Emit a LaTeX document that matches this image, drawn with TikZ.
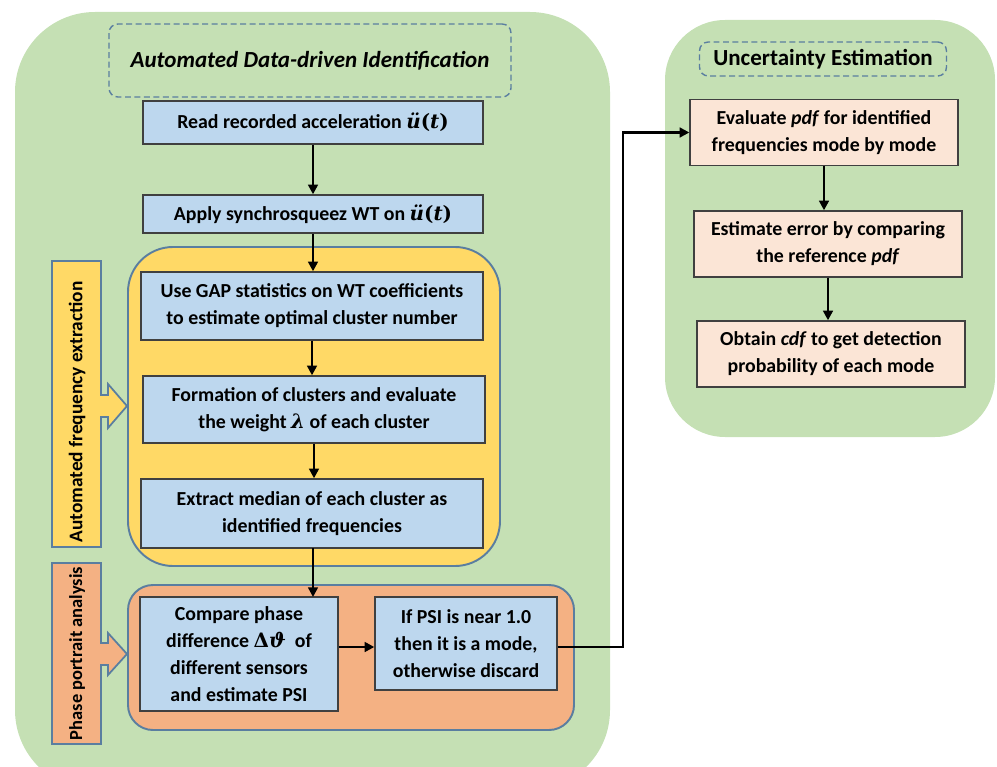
\documentclass[tikz,border=0pt]{standalone}
\usepackage{fontspec}
\setmainfont{Carlito}
\newfontfamily\mserif{DejaVu Serif}
\newcommand{\mbi}[1]{{\mserif\bfseries\itshape #1}}
\newcommand{\mup}[1]{{\mserif #1}}
\usetikzlibrary{arrows.meta}
\definecolor{pgreen}{HTML}{C5E0B4}
\definecolor{cblue}{HTML}{BDD7EE}
\definecolor{cyellow}{HTML}{FFD966}
\definecolor{corange}{HTML}{F4B183}
\definecolor{cpink}{HTML}{FBE5D6}
\definecolor{edgeblue}{HTML}{5A7EA0}
\definecolor{boxedge}{HTML}{404040}
\begin{document}
\begin{tikzpicture}[x=0.02cm,y=-0.02cm,
  txt/.style={font=\bfseries\fontsize{11.3}{15.3}\selectfont, align=center, inner sep=0pt},
  bluebox/.style={txt, draw=boxedge, fill=cblue, line width=0.8pt},
  pinkbox/.style={txt, draw=boxedge, fill=cpink, line width=0.8pt},
  panel/.style={fill=pgreen, draw=none},
  titlebox/.style={draw=edgeblue, line width=0.8pt, dash pattern=on 3.4pt off 2pt, rounded corners=5pt},
  sidebar/.style={draw=edgeblue, line width=1pt},
  sidetxt/.style={font=\bfseries\fontsize{11}{12}\selectfont, rotate=90, inner sep=0pt},
  conn/.style={line width=1.4pt, -{Triangle[length=5.5pt,width=5.5pt]}}]
\useasboundingbox (0,0) rectangle (997,767);
% panels
\fill[panel, rounded corners=1.6cm] (15,12) rectangle (610,790);
\fill[panel, rounded corners=1.2cm] (665,20) rectangle (995,437);
\node[titlebox, minimum width=8.04cm, minimum height=1.46cm] (t1) at (310,60.5) {};
\node[font=\bfseries\itshape\fontsize{13.1}{15}\selectfont] (t1txt) at (t1) {Automated Data-driven Identification};
\node[titlebox, minimum width=4.94cm, minimum height=0.68cm, font=\bfseries\fontsize{13.1}{15}\selectfont] (t2) at (823,59) {Uncertainty Estimation};
\draw[fill=cyellow, draw=edgeblue, line width=1.1pt, rounded corners=0.9cm] (128,247) rectangle (500,566);
\draw[fill=corange, draw=edgeblue, line width=1.1pt, rounded corners=0.5cm] (128,585) rectangle (574,730);
% side bars
\draw[sidebar, fill=cyellow] (52,261) -- (101,261) -- (101,395) -- (108,395) -- (108,384) -- (127,406) -- (108,428) -- (108,417) -- (101,417) -- (101,547) -- (52,547) -- cycle;
\node[sidetxt] (s1) at (77,412) {Automated frequency extraction};
\draw[sidebar, fill=corange] (52,563) -- (101,563) -- (101,643) -- (108,643) -- (108,633) -- (127,654) -- (108,675) -- (108,665) -- (101,665) -- (101,744) -- (52,744) -- cycle;
\node[sidetxt, font=\bfseries\fontsize{10.5}{12}\selectfont] (s2) at (77,653.5) {Phase portrait analysis};
% boxes
\node[bluebox, minimum width=6.8cm, minimum height=0.86cm] (b1) at (313,122.5) {Read recorded acceleration \mbi{ü}\mup{(}\mbi{t}\mup{)}};
\node[bluebox, minimum width=6.8cm, minimum height=0.76cm] (b2) at (313,214) {Apply synchrosqueez WT on \mbi{ü}\mup{(}\mbi{t}\mup{)}};
\node[bluebox, minimum width=6.84cm, minimum height=1.36cm] (b3) at (312,306) {Use GAP statistics on WT coefficients\\to estimate optimal cluster number};
\node[bluebox, minimum width=6.84cm, minimum height=1.34cm] (b4) at (314,409.5) {Formation of clusters and evaluate\\the weight \mbi{λ} of each cluster};
\node[bluebox, minimum width=6.84cm, minimum height=1.38cm] (b5) at (312,513.5) {Extract median of each cluster as\\identified frequencies};
\node[bluebox, minimum width=3.96cm, minimum height=2.28cm] (b6) at (239,654) {Compare phase\\difference {\mserif\bfseries Δ}\mbi{ϑ}\ \ of\\different sensors\\and estimate PSI};
\node[bluebox, minimum width=3.64cm, minimum height=1.86cm] (b7) at (466,643.5) {If PSI is near 1.0\\then it is a mode,\\otherwise discard};
\node[pinkbox, minimum width=5.36cm, minimum height=1.32cm] (b8) at (824,132.5) {Evaluate \textit{pdf} for identified\\frequencies mode by mode};
\node[pinkbox, minimum width=5.36cm, minimum height=1.32cm] (b9) at (828,244) {Estimate error by comparing\\the reference \textit{pdf}};
\node[pinkbox, minimum width=5.36cm, minimum height=1.32cm] (b10) at (831,354) {Obtain \textit{cdf} to get detection\\probability of each mode};
% connectors
\draw[conn] (b1.south) -- (b1.south |- b2.north);
\draw[conn] (b2.south) -- (b2.south |- b3.north);
\draw[conn] (b3.south) -- (b3.south |- b4.north);
\draw[conn] (b4.south) -- (b4.south |- b5.north);
\draw[conn] (313,548) -- (313,597);
\draw[conn] (b6.east |- 0,647) -- (b7.west |- 0,647);
\coordinate (k1) at (623,647);
\coordinate (k2) at (623,132.5);
\draw[conn] (b7.east |- k1) -- (k1) -- (k2) -- (b8.west);
\draw[conn] (b8.south) -- (b8.south |- b9.north);
\draw[conn] (b9.south) -- (b9.south |- b10.north);
\end{tikzpicture}
\end{document}
